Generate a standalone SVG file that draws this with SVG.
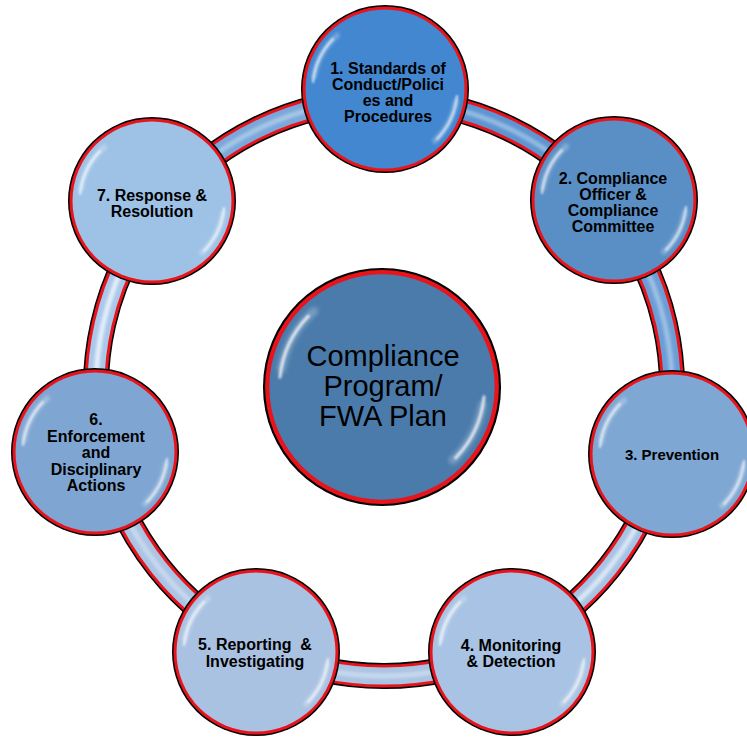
<svg xmlns="http://www.w3.org/2000/svg" xmlns:xlink="http://www.w3.org/1999/xlink" width="747" height="738" viewBox="0 0 747 738">
<style>
.rb{fill:none;stroke:#000;stroke-width:26}
.rr{fill:none;stroke:#e8141c;stroke-width:23}
.rf{fill:none;stroke-width:17}
.rh{fill:none;stroke:#fff;stroke-width:5;opacity:.35;filter:url(#soft)}
.ob{fill:#000}
.or{fill:#e8141c}
.gl{fill:none;stroke:#fff;stroke-linecap:round}
.lbl{font-family:"Liberation Sans",Arial,sans-serif;font-weight:bold;font-size:16px;text-anchor:middle;fill:#000}
.big{font-family:"Liberation Sans",Arial,sans-serif;font-size:29px;text-anchor:middle;fill:#000}
</style>
<defs>
<filter id="soft" x="-20%" y="-20%" width="140%" height="140%"><feGaussianBlur stdDeviation="1.6"/></filter>
<filter id="soft2" x="-20%" y="-20%" width="140%" height="140%"><feGaussianBlur stdDeviation="0.8"/></filter>
<path id="p12" d="M384,100 A288,288 0 0 1 609.2,208.4"/>
<path id="p23" d="M609.2,208.4 A288,288 0 0 1 664.8,452.1"/>
<path id="p34" d="M664.8,452.1 A288,288 0 0 1 509,647.5"/>
<path id="p45" d="M509,647.5 A288,288 0 0 1 259,647.5"/>
<path id="p56" d="M259,647.5 A288,288 0 0 1 103.2,452.1"/>
<path id="p67" d="M103.2,452.1 A288,288 0 0 1 158.8,208.4"/>
<path id="p71" d="M158.8,208.4 A288,288 0 0 1 384,100"/>
<g id="gloss">
<path class="gl" d="M-71,-12.5 A72,72 0 0 1 -48,-53.5 M71,12.5 A72,72 0 0 1 50,51.8" stroke-width="6" opacity=".25" filter="url(#soft)"/>
<path class="gl" d="M-72,-7 A72.5,72.5 0 0 1 -52,-50 M72,7 A72.5,72.5 0 0 1 52,50" stroke-width="2.2" opacity=".75" filter="url(#soft2)"/>
</g>
<g id="rim">
<circle class="ob" r="84"/>
<circle class="or" r="82.5"/>
</g>
</defs>
<rect width="747" height="738" fill="#fff"/>
<g id="connectors">
<g id="s12"><use xlink:href="#p12" class="rb"/><use xlink:href="#p12" class="rr"/><use xlink:href="#p12" class="rf" stroke="#5c95d1"/><use xlink:href="#p12" class="rh"/></g>
<g id="s23"><use xlink:href="#p23" class="rb"/><use xlink:href="#p23" class="rr"/><use xlink:href="#p23" class="rf" stroke="#6b9ed6"/><use xlink:href="#p23" class="rh"/></g>
<g id="s34"><use xlink:href="#p34" class="rb"/><use xlink:href="#p34" class="rr"/><use xlink:href="#p34" class="rf" stroke="#a6c3e5"/><use xlink:href="#p34" class="rh" style="opacity:.6"/></g>
<g id="s45"><use xlink:href="#p45" class="rb"/><use xlink:href="#p45" class="rr"/><use xlink:href="#p45" class="rf" stroke="#aac4e4"/><use xlink:href="#p45" class="rh"/></g>
<g id="s56"><use xlink:href="#p56" class="rb"/><use xlink:href="#p56" class="rr"/><use xlink:href="#p56" class="rf" stroke="#aac4e4"/><use xlink:href="#p56" class="rh"/></g>
<g id="s67"><use xlink:href="#p67" class="rb"/><use xlink:href="#p67" class="rr"/><use xlink:href="#p67" class="rf" stroke="#a9c8ea"/><use xlink:href="#p67" class="rh" style="opacity:.7"/></g>
<g id="s71"><use xlink:href="#p71" class="rb"/><use xlink:href="#p71" class="rr"/><use xlink:href="#p71" class="rf" stroke="#7aa8da"/><use xlink:href="#p71" class="rh"/></g>
</g>
<g id="center" transform="translate(382,387)">
<g transform="scale(1.417)"><use xlink:href="#rim"/><circle r="79.5" fill="#4a7bab"/><use xlink:href="#gloss"/></g>
<text class="big"><tspan x="1" y="-21">Compliance</tspan><tspan x="1" y="9">Program/</tspan><tspan x="1" y="39">FWA Plan</tspan></text>
</g>
<g id="n1" transform="translate(385,89)">
<use xlink:href="#rim"/><circle r="79.5" fill="#4287cf"/><use xlink:href="#gloss"/>
<text class="lbl"><tspan x="3" y="-15">1. Standards of</tspan><tspan x="3" y="1">Conduct/Polici</tspan><tspan x="3" y="17">es and</tspan><tspan x="3" y="33">Procedures</tspan></text>
</g>
<g id="n2" transform="translate(614,200)">
<use xlink:href="#rim"/><circle r="79.5" fill="#5a8fc6"/><use xlink:href="#gloss"/>
<text class="lbl"><tspan x="-1" y="-16">2. Compliance</tspan><tspan x="-1" y="0">Officer &amp;</tspan><tspan x="-1" y="16">Compliance</tspan><tspan x="-1" y="32">Committee</tspan></text>
</g>
<g id="n3" transform="translate(672,454)">
<use xlink:href="#rim"/><circle r="79.5" fill="#7ea7d3"/><use xlink:href="#gloss"/>
<text class="lbl" style="font-size:15px"><tspan x="0" y="6">3. Prevention</tspan></text>
</g>
<g id="n4" transform="translate(512,652)">
<use xlink:href="#rim"/><circle r="79.5" fill="#a8c3e3"/><use xlink:href="#gloss"/>
<text class="lbl"><tspan x="-1" y="-1">4. Monitoring</tspan><tspan x="-1" y="15">&amp; Detection</tspan></text>
</g>
<g id="n5" transform="translate(256,652)">
<use xlink:href="#rim"/><circle r="79.5" fill="#a9c2e2"/><use xlink:href="#gloss"/>
<text class="lbl" xml:space="preserve"><tspan x="-1" y="-2">5. Reporting  &amp;</tspan><tspan x="-1" y="15">Investigating</tspan></text>
</g>
<g id="n6" transform="translate(95,452)">
<use xlink:href="#rim"/><circle r="79.5" fill="#7fa6d2"/><use xlink:href="#gloss"/>
<text class="lbl"><tspan x="1" y="-27">6.</tspan><tspan x="1" y="-10.5">Enforcement</tspan><tspan x="1" y="6">and</tspan><tspan x="1" y="22.5">Disciplinary</tspan><tspan x="1" y="39">Actions</tspan></text>
</g>
<g id="n7" transform="translate(152,201)">
<use xlink:href="#rim"/><circle r="79.5" fill="#9dc2e6"/><use xlink:href="#gloss"/>
<text class="lbl"><tspan x="0" y="0">7. Response &amp;</tspan><tspan x="0" y="16">Resolution</tspan></text>
</g>
</svg>
